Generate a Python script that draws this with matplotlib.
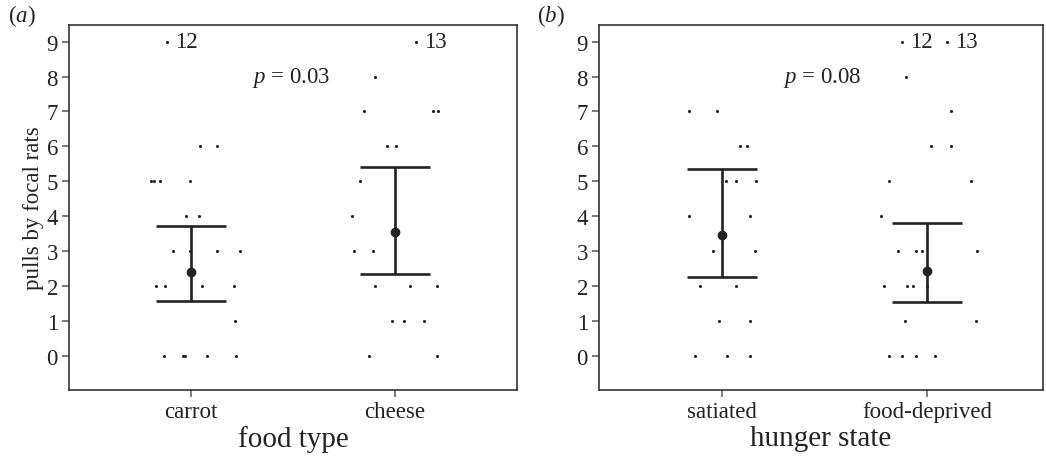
import matplotlib
matplotlib.use("Agg")
import matplotlib.pyplot as plt

plt.rcParams['font.family'] = ['Liberation Serif', 'DejaVu Serif']
plt.rcParams['mathtext.fontset'] = 'custom'
plt.rcParams['mathtext.it'] = 'Liberation Serif:italic'
plt.rcParams['mathtext.rm'] = 'Liberation Serif'

# panel (a): food type
food_groups = ['carrot', 'cheese']
carrot_vals = [9, 6, 6, 5, 5, 5, 5, 4, 4, 3, 3, 3, 3, 2, 2, 2, 2, 1, 0, 0, 0, 0, 0]
carrot_jit = [-0.118, 0.044, 0.127, -0.196, -0.181, -0.152, -0.005, -0.025, 0.039,
              -0.088, -0.005, 0.127, 0.240, -0.172, -0.127, 0.054, 0.211, 0.216,
              -0.132, -0.039, -0.029, 0.078, 0.221]
cheese_vals = [9, 8, 7, 7, 7, 6, 6, 5, 4, 3, 3, 2, 2, 2, 1, 1, 1, 0, 0]
cheese_jit = [0.103, -0.098, -0.152, 0.186, 0.211, -0.039, 0.005, -0.172, -0.211,
              -0.201, -0.108, -0.098, 0.074, 0.206, -0.015, 0.044, 0.142, -0.127, 0.206]
food_mean = [2.40, 3.56]
food_lo = [1.56, 2.34]
food_hi = [3.73, 5.42]
food_capped = ['12', '13']
food_p = '0.03'

# panel (b): hunger state
hunger_groups = ['satiated', 'food-deprived']
sat_vals = [7, 7, 6, 6, 5, 5, 5, 4, 4, 3, 3, 2, 2, 1, 1, 0, 0, 0]
sat_jit = [-0.161, -0.024, 0.088, 0.122, 0.020, 0.068, 0.166, -0.161, 0.137,
           -0.044, 0.161, -0.107, 0.068, -0.015, 0.137, -0.132, 0.024, 0.137]
dep_vals = [9, 9, 8, 7, 6, 6, 5, 5, 4, 3, 3, 3, 3, 2, 2, 2, 2, 1, 1, 0, 0, 0, 0]
dep_jit = [-0.122, 0.098, -0.102, 0.117, 0.020, 0.117, -0.185, 0.215, -0.224,
           -0.141, -0.054, -0.024, 0.244, -0.210, -0.098, -0.068, 0.0, -0.107, 0.239,
           -0.185, -0.122, -0.054, 0.039]
hunger_mean = [3.45, 2.42]
hunger_lo = [2.25, 1.54]
hunger_hi = [5.36, 3.81]
hunger_capped = [('12', -0.122), ('13', 0.098)]
hunger_p = '0.08'

dark = '#222222'
spine_col = '#333333'


def style_axis(ax, groups, xlabel, xmax):
    ax.set_xlim(0.4, xmax)
    ax.set_ylim(-0.975, 9.475)
    ax.set_yticks(range(10))
    ax.set_xticks([1, 2])
    ax.set_xticklabels(groups)
    ax.tick_params(axis='both', direction='out', length=5, width=1.1,
                   color='#555555', labelsize=16.5, labelcolor=dark, pad=3)
    for sp in ax.spines.values():
        sp.set_color(spine_col)
        sp.set_linewidth(1.2)
    ax.set_xlabel(xlabel, fontsize=21, color=dark, labelpad=2)


def draw_panel(ax, groups_vals, groups_jit, mean, lo, hi):
    for i, (vals, jit) in enumerate(zip(groups_vals, groups_jit)):
        xs = [i + 1 + j for j in jit]
        ax.scatter(xs, vals, s=5, color=dark, linewidths=0, zorder=2)
    xs = [1, 2]
    ax.errorbar(xs, mean, yerr=[[m - l for m, l in zip(mean, lo)],
                                [h - m for m, h in zip(mean, hi)]],
                fmt='o', color=dark, ms=6, elinewidth=1.9, capsize=25,
                capthick=1.9, zorder=3)


fig = plt.figure(figsize=(10.46, 4.6), dpi=100)
W, H = 1046, 460
ax1 = fig.add_axes([69 / W, (H - 391) / H, (517 - 69) / W, (391 - 26) / H])
ax2 = fig.add_axes([599 / W, (H - 391) / H, (1043 - 599) / W, (391 - 26) / H])

draw_panel(ax1, [carrot_vals, cheese_vals], [carrot_jit, cheese_jit],
           food_mean, food_lo, food_hi)
style_axis(ax1, food_groups, 'food type', 2.6)
ax1.set_ylabel('pulls by focal rats', fontsize=16.5, color=dark, labelpad=2)
ax1.text(1 + carrot_jit[0] + 0.04, 9, food_capped[0], fontsize=16.5,
         color=dark, va='center', ha='left')
ax1.text(2 + cheese_jit[0] + 0.04, 9, food_capped[1], fontsize=16.5,
         color=dark, va='center', ha='left')
ax1.text(1.49, 8, '$p$ = ' + food_p, fontsize=16.5, color=dark,
         ha='center', va='center')

draw_panel(ax2, [sat_vals, dep_vals], [sat_jit, dep_jit],
           hunger_mean, hunger_lo, hunger_hi)
style_axis(ax2, hunger_groups, 'hunger state', 2.566)
for lab, off in hunger_capped:
    ax2.text(2 + off + 0.04, 9, lab, fontsize=16.5, color=dark,
             va='center', ha='left')
ax2.text(1.49, 8, '$p$ = ' + hunger_p, fontsize=16.5, color=dark,
         ha='center', va='center')

fig.text(8 / W, 1 - 16 / H, r'($a$)', fontsize=16.5, color=dark, va='center')
fig.text(537 / W, 1 - 16 / H, r'($b$)', fontsize=16.5, color=dark, va='center')

fig.savefig('out.png', dpi=100)
